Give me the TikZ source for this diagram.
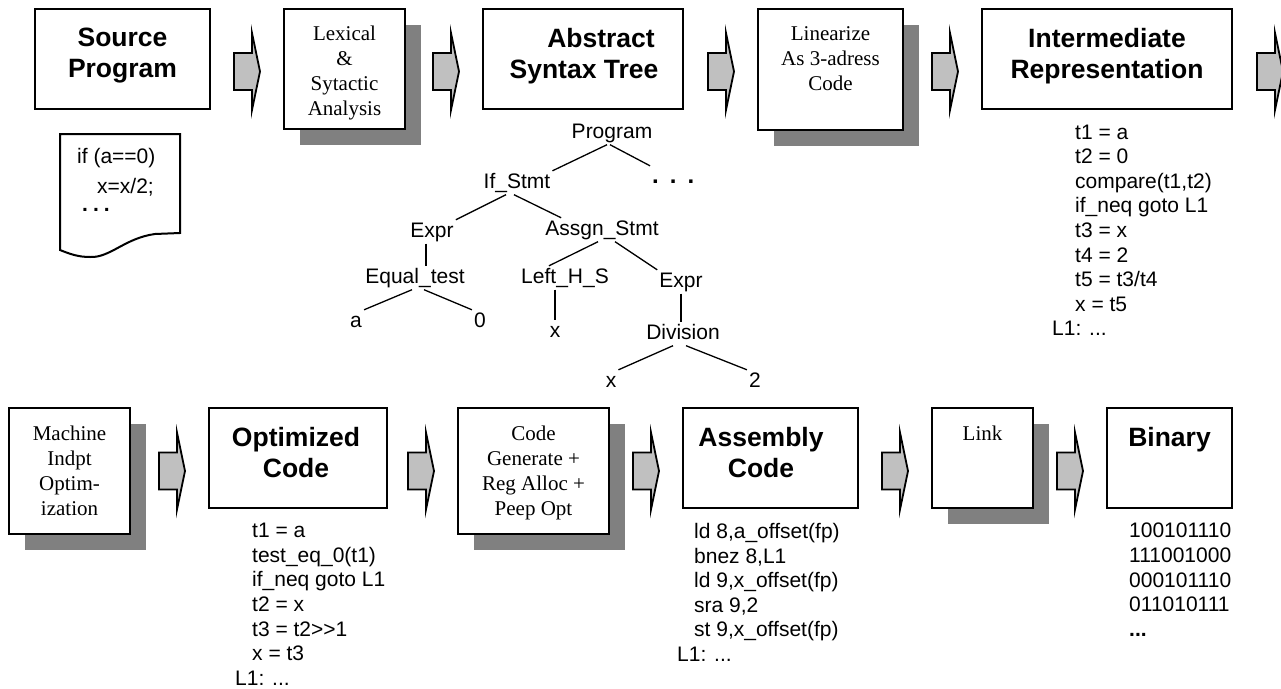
\documentclass[tikz,border=0pt]{standalone}
\usepackage{fontspec}
\setmainfont{Liberation Serif}
\setsansfont{Liberation Sans}
\usepackage{tikz}
\usetikzlibrary{shadows}
\definecolor{arrgray}{HTML}{C0C0C0}
\definecolor{shadegray}{HTML}{808080}

\begin{document}
\begin{tikzpicture}[x=1pt, y=-1pt,
  stagebox/.style={draw, line width=2pt, fill=white, inner sep=0pt},
  passbox/.style={stagebox, drop shadow={shadow xshift=16pt, shadow yshift=-16pt, fill=shadegray, opacity=1}},
  ttl/.style={anchor=north, align=center, inner sep=0pt, font=\sffamily\bfseries\fontsize{26.5}{31}\selectfont},
  proc/.style={anchor=north, align=center, inner sep=0pt, font=\rmfamily\fontsize{21}{25}\selectfont},
  code/.style={anchor=north west, align=left, inner sep=0pt, font=\sffamily\fontsize{21}{24.6}\selectfont},
  tnode/.style={anchor=base, inner sep=2pt, text height=15pt, text depth=4.5pt, font=\sffamily\fontsize{21}{25}\selectfont},
  treeline/.style={line width=1.3pt},
  flowarr/.pic={\filldraw[fill=arrgray, line width=1.8pt] (0,-18.5) -- (18,-18.5) -- (18,-38.5) -- (26,0) -- (18,38.5) -- (18,18.5) -- (0,18.5) -- cycle;}]
  \useasboundingbox (0,0) rectangle (1281,688);
  \node[stagebox, minimum width=175pt, minimum height=100pt] (src) at (122.5,59) {};
  \node[ttl] (srct) at (122.5,28) {Source\\Program};
  \node[passbox, minimum width=121pt, minimum height=120pt] (lex) at (344.5,69) {};
  \node[proc] (lext) at (344.5,26) {Lexical\\\&\\Sytactic\\Analysis};
  \node[stagebox, minimum width=200pt, minimum height=100pt] (ast) at (583,59) {};
  \node[ttl] (astt) at (584,28) {\hspace*{34pt}Abstract\\Syntax Tree};
  \node[passbox, minimum width=145pt, minimum height=121pt] (lin) at (830.5,69.5) {};
  \node[proc] (lint) at (830.5,26) {Linearize\\As 3-adress\\Code};
  \node[stagebox, minimum width=250pt, minimum height=100pt] (ir) at (1107,59) {};
  \node[ttl] (irt) at (1107,28) {Intermediate\\Representation};
  \node[passbox, minimum width=121pt, minimum height=126pt] (mio) at (69.5,471) {};
  \node[proc] (miot) at (69.5,426) {Machine\\Indpt\\Optim-\\ization};
  \node[stagebox, minimum width=178pt, minimum height=100pt] (opt) at (298,458) {};
  \node[ttl] (optt) at (296,427) {Optimized\\Code};
  \node[passbox, minimum width=151pt, minimum height=126pt] (cg) at (533.5,471) {};
  \node[proc] (cgt) at (533.5,426) {Code\\Generate +\\Reg Alloc +\\Peep Opt};
  \node[stagebox, minimum width=175pt, minimum height=100pt] (asm) at (770.5,458) {};
  \node[ttl] (asmt) at (761,427) {Assembly\\Code};
  \node[passbox, minimum width=101pt, minimum height=100pt] (lnk) at (982.5,458) {};
  \node[proc] (lnkt) at (982.5,426) {Link};
  \node[stagebox, minimum width=125pt, minimum height=100pt] (bin) at (1169.5,458) {};
  \node[ttl] (bint) at (1169.5,427) {Binary};
  \pic at (234,71.5) {flowarr};
  \pic at (433,71.5) {flowarr};
  \pic at (708,71.5) {flowarr};
  \pic at (932,71.5) {flowarr};
  \pic at (1257,71.5) {flowarr};
  \pic at (159,471) {flowarr};
  \pic at (408,471) {flowarr};
  \pic at (633,471) {flowarr};
  \pic at (882,471) {flowarr};
  \pic at (1057,471) {flowarr};
  \draw[line width=2pt] (60,134) -- (180,134) -- (180,233) -- (155,234) .. controls (125,238) and (110,258) .. (90,257) .. controls (78,257) and (70,254) .. (60,250) -- cycle;
  \node[code] (srccode) at (77,148) {if (a==0)\\[5pt]\hspace*{20pt}x=x/2;\\[-6pt]\hspace*{5pt}\textbf{.\hspace{5pt}.\hspace{5pt}.}};
  \node[code] (irc) at (1052,124.5) {\hspace*{23pt}t1 = a\\\hspace*{23pt}t2 = 0\\\hspace*{23pt}compare(t1,t2)\\\hspace*{23pt}if\_neq goto L1\\\hspace*{23pt}t3 = x\\\hspace*{23pt}t4 = 2\\\hspace*{23pt}t5 = t3/t4\\\hspace*{23pt}x = t5\\L1: ...};
  \node[code] (optc) at (235,523) {\hspace*{17pt}t1 = a\\\hspace*{17pt}test\_eq\_0(t1)\\\hspace*{17pt}if\_neq goto L1\\\hspace*{17pt}t2 = x\\\hspace*{17pt}t3 = t2>{}>1\\\hspace*{17pt}x = t3\\L1: ...};
  \node[code] (asmc) at (677,523) {\hspace*{17pt}ld 8,a\_offset(fp)\\\hspace*{17pt}bnez 8,L1\\\hspace*{17pt}ld 9,x\_offset(fp)\\\hspace*{17pt}sra 9,2\\\hspace*{17pt}st 9,x\_offset(fp)\\L1: ...};
  \node[code] (binc) at (1129,523) {100101110\\111001000\\000101110\\011010111\\\textbf{...}};
  \node[tnode] (prog) at (612,138) {Program};
  \node[tnode] (ifs) at (517,188) {If\_Stmt};
  \node[tnode, anchor=base west, font=\sffamily\bfseries\fontsize{24}{28}\selectfont] (more) at (650,183) {.\hspace{11pt}.\hspace{11pt}.};
  \node[tnode] (expa) at (432,237) {Expr};
  \node[tnode] (asg) at (602,235) {Assgn\_Stmt};
  \node[tnode] (eqt) at (415,283) {Equal\_test};
  \node[tnode] (lhs) at (565,283) {Left\_H\_S};
  \node[tnode] (expb) at (681,287) {Expr};
  \node[tnode] (va) at (356,327) {a};
  \node[tnode] (vzero) at (480,327) {0};
  \node[tnode] (vx) at (555,337) {x};
  \node[tnode] (div) at (683,339) {Division};
  \node[tnode] (vxb) at (611,387) {x};
  \node[tnode] (vtwo) at (755,387) {2};
  \draw[treeline] ([xshift=-5pt]prog.south) -- (ifs.north east);
  \draw[treeline] ([xshift=-2pt]prog.south) -- (more.north west);
  \draw[treeline] ([xshift=-11pt]ifs.south) -- (expa.north east);
  \draw[treeline] ([xshift=-3pt]ifs.south) -- ([xshift=18pt]asg.north west);
  \draw[treeline] ([xshift=-6pt]expa.south) -- ([xshift=-6pt]expa.south |- eqt.north);
  \draw[treeline] ([xshift=-3pt]eqt.south) -- (va.north east);
  \draw[treeline] ([xshift=9pt]eqt.south) -- (vzero.north west);
  \draw[treeline] ([xshift=-4pt]asg.south) -- ([xshift=-16pt]lhs.north);
  \draw[treeline] ([xshift=13pt]asg.south) -- (expb.north west);
  \draw[treeline] (lhs.south -| vx.north) -- (vx.north);
  \draw[treeline] (expb.south) -- (expb.south |- div.north);
  \draw[treeline] ([xshift=-10pt]div.south) -- (vxb.north east);
  \draw[treeline] ([xshift=3pt]div.south) -- (vtwo.north west);
\end{tikzpicture}
\end{document}
